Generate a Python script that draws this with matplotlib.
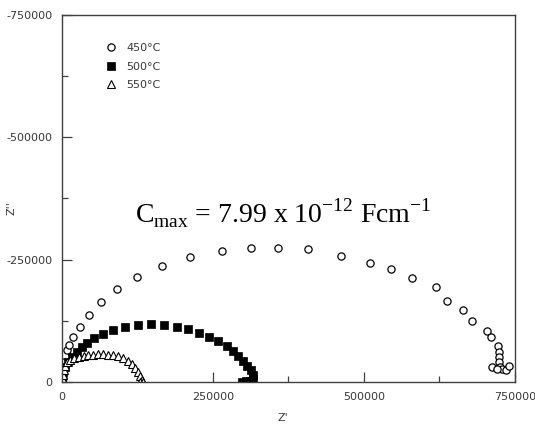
import numpy as np
import matplotlib
matplotlib.use('Agg')
import matplotlib.pyplot as plt

# impedance spectra, Z' and Z'' in ohm (Z'' plotted negative upwards)
z_re_450 = [830, 1660, 3300, 7800, 12100, 18700, 29000, 44700, 64100, 91600,
            124200, 166100, 211900, 264400, 312900, 358100, 406800, 461900,
            510400, 544700, 579000, 618700, 636900, 664400, 679300, 703100,
            710200, 721300, 723500, 724000, 724000, 725200, 728000, 735100,
            740600, 711400, 720700]
z_im_450 = [-8170, -24500, -40900, -65400, -76600, -92000, -113400, -136900,
            -162900, -189400, -214600, -237100, -254800, -268300, -273200,
            -273200, -271200, -258100, -243800, -230300, -211900, -194100,
            -165500, -147100, -124700, -104900, -92600, -73600, -61300,
            -50400, -40900, -31300, -25900, -24500, -32700, -31300, -25900]

z_re_500 = [800, 2200, 5000, 10400, 16100, 24300, 32600, 41900, 53500, 68400,
            84900, 104300, 125800, 147300, 168900, 189900, 209100, 227300,
            243700, 259100, 272400, 282600, 291900, 300200, 306800, 312400,
            315700, 316700, 311300, 304600, 298000]
z_im_500 = [-8200, -21000, -31300, -41500, -51700, -61900, -72100, -80300,
            -89300, -98100, -106300, -113400, -116500, -117900, -116500,
            -113000, -107300, -100100, -92600, -83800, -73600, -64000,
            -53700, -43500, -33300, -24500, -14300, -5100, -2000, -2000, -1000]

z_re_550 = [1000, 2000, 3000, 4200, 7700, 13200, 20400, 28100, 36900, 43600,
            51800, 60100, 68400, 76700, 84900, 93200, 101500, 108700, 115400,
            120900, 126300, 129600, 131900, 129100, 134600]
z_im_550 = [-5000, -14000, -24000, -33000, -40000, -45000, -48500, -51500,
            -53500, -55000, -56000, -56500, -56500, -56000, -55000, -52500,
            -48500, -43000, -36500, -28500, -20500, -12000, -4000, -500, 0]

labels = ['450\u00b0C', '500\u00b0C', '550\u00b0C']
ticks = [0, 250000, 500000, 750000]
minor_ticks = [125000, 375000, 625000]
xtick_labels = ['0', '250000', '500000', '750000']
ytick_labels = ['0', '-250000', '-500000', '-750000']

plt.rcParams['font.family'] = 'DejaVu Sans'
plt.rcParams['axes.unicode_minus'] = False
plt.rcParams['mathtext.fontset'] = 'custom'
plt.rcParams['mathtext.rm'] = 'Liberation Serif'

edge = '#404040'
fig = plt.figure(figsize=(5.35, 4.25), dpi=100)
ax = fig.add_axes([0.1159, 0.1012, 0.8467, 0.8635])

ax.plot(z_re_450, z_im_450, 'o', ms=5.2, mfc='white', mec='black', mew=0.9,
        linestyle='none', label=labels[0])
ax.plot(z_re_500, z_im_500, 's', ms=5.4, mfc='black', mec='black', mew=0.5,
        linestyle='none', label=labels[1])
ax.plot(z_re_550, z_im_550, '^', ms=5.2, mfc='white', mec='black', mew=0.8,
        linestyle='none', label=labels[2])

ax.set_xlim(0, 750000)
ax.set_ylim(0, -750000)
ax.set_xticks(ticks)
ax.set_xticklabels(xtick_labels)
ax.set_yticks([-t for t in ticks])
ax.set_yticklabels(ytick_labels)
ax.set_xticks(minor_ticks, minor=True)
ax.set_yticks([-t for t in minor_ticks], minor=True)

ax.tick_params(which='both', direction='in', color=edge, labelsize=8,
               labelcolor='#383838', top=False, right=False)
ax.tick_params(which='major', length=7, width=0.9)
ax.tick_params(which='minor', length=4, width=0.9)
ax.tick_params(axis='x', pad=7)
ax.tick_params(axis='y', pad=7)
for s in ax.spines.values():
    s.set_color(edge)
    s.set_linewidth(1.0)

ax.set_xlabel("Z'", fontsize=8, color='#383838')
ax.set_ylabel("Z''", fontsize=8, color='#383838')
ax.xaxis.set_label_coords(0.488, -0.085)
ax.yaxis.set_label_coords(-0.101, 0.474)

leg = ax.legend(loc='upper left', bbox_to_anchor=(0.085, 0.935), frameon=False,
                fontsize=8, handlelength=1.0, handletextpad=0.9,
                labelspacing=0.75, borderaxespad=0)
for t in leg.get_texts():
    t.set_color('#383838')

ax.text(0.162, 0.435, r'C$_{\mathrm{max}}$ = 7.99 x 10$^{\mathrm{-12}}$ Fcm$^{\mathrm{-1}}$',
        transform=ax.transAxes, fontsize=20, family='Liberation Serif',
        va='baseline', ha='left')

fig.savefig('out.png', dpi=100)
